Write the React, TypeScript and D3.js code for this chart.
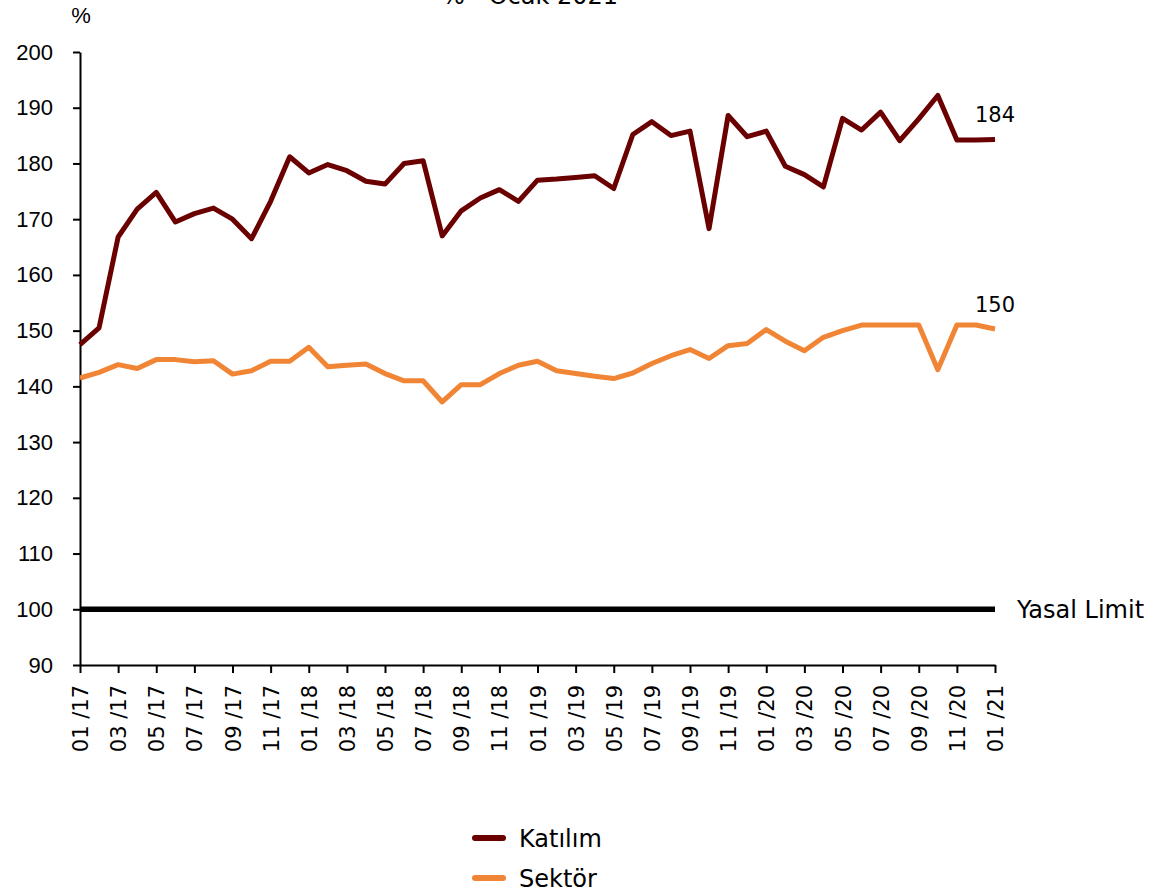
import React, { useEffect, useRef } from "react";
import * as d3 from "d3";

// monthly categories, 01/17 .. 01/21
const months = [
  "01 /17", "02 /17", "03 /17", "04 /17", "05 /17", "06 /17", "07 /17", "08 /17", "09 /17", "10 /17", "11 /17", "12 /17",
  "01 /18", "02 /18", "03 /18", "04 /18", "05 /18", "06 /18", "07 /18", "08 /18", "09 /18", "10 /18", "11 /18", "12 /18",
  "01 /19", "02 /19", "03 /19", "04 /19", "05 /19", "06 /19", "07 /19", "08 /19", "09 /19", "10 /19", "11 /19", "12 /19",
  "01 /20", "02 /20", "03 /20", "04 /20", "05 /20", "06 /20", "07 /20", "08 /20", "09 /20", "10 /20", "11 /20", "12 /20",
  "01 /21",
];

const katilim = [
  147.5, 150.5, 166.8, 171.8, 174.8, 169.5, 171.0, 172.0, 170.0, 166.5, 173.2, 181.2,
  178.3, 179.8, 178.7, 176.8, 176.3, 180.0, 180.5, 167.0, 171.5, 173.8, 175.3, 173.2,
  177.0, 177.2, 177.5, 177.8, 175.5, 185.2, 187.5, 185.0, 185.8, 168.3, 188.6, 184.8,
  185.8, 179.5, 178.0, 175.8, 188.1, 186.0, 189.2, 184.1, 188.0, 192.2, 184.2, 184.2,
  184.3,
];

const sektor = [
  141.5, 142.5, 143.9, 143.2, 144.8, 144.8, 144.4, 144.6, 142.2, 142.8, 144.5, 144.5,
  147.0, 143.5, 143.8, 144.0, 142.3, 141.0, 141.0, 137.2, 140.3, 140.3, 142.3, 143.8,
  144.5, 142.8, 142.3, 141.8, 141.4, 142.4, 144.1, 145.5, 146.6, 145.0, 147.3, 147.7,
  150.2, 148.1, 146.4, 148.8, 150.0, 151.0, 151.0, 151.0, 151.0, 143.0, 151.0, 151.0,
  150.3,
];

const yTicks = [90, 100, 110, 120, 130, 140, 150, 160, 170, 180, 190, 200];
const legalLimit = 100;

const seriesList = [
  { name: "Katılım", values: katilim, color: "#6B0000", last: "184" },
  { name: "Sektör", values: sektor, color: "#F08536", last: "150" },
];

export default function App() {
  const ref = useRef<SVGSVGElement>(null);

  useEffect(() => {
    const svg = d3.select(ref.current);
    svg.selectAll("*").remove();

    const left = 80, right = 995, top = 52, bottom = 665;
    const labelFont = "'DejaVu Sans', sans-serif";
    const numFont = "'Liberation Sans', Arial, sans-serif";

    const x = d3.scalePoint<string>().domain(months).range([left, right]);
    const y = d3.scaleLinear().domain([90, 200]).range([bottom, top]);

    // title, cut at the top edge as in the original
    svg.append("text")
      .attr("x", 530).attr("y", 4)
      .attr("text-anchor", "middle")
      .style("font-family", labelFont).style("font-size", "24px")
      .text("% - Ocak 2021");

    // unit
    svg.append("text")
      .attr("x", 81).attr("y", 23)
      .attr("text-anchor", "middle")
      .style("font-family", numFont).style("font-size", "22px")
      .text("%");

    // y axis
    const yAxis = svg.append("g")
      .attr("transform", `translate(${left},0)`)
      .call(d3.axisLeft(y).tickValues(yTicks).tickSize(7).tickSizeOuter(0).tickPadding(20));
    yAxis.select(".domain").attr("stroke", "#000").attr("stroke-width", 2);
    yAxis.selectAll(".tick line").attr("stroke", "#000").attr("stroke-width", 2);
    yAxis.selectAll("text")
      .style("font-family", numFont).style("font-size", "22px").attr("fill", "#000");

    // x axis
    const xAxis = svg.append("g")
      .attr("transform", `translate(0,${bottom})`)
      .call(d3.axisBottom(x).tickValues(months.filter((_, i) => i % 2 === 0)).tickSize(8).tickSizeOuter(0));
    xAxis.select(".domain").attr("stroke", "#000").attr("stroke-width", 2);
    xAxis.selectAll(".tick line").attr("stroke", "#000").attr("stroke-width", 2);
    xAxis.selectAll("text")
      .attr("transform", "rotate(-90)")
      .attr("x", -20).attr("y", 0).attr("dy", "0.36em")
      .style("text-anchor", "end")
      .style("font-family", labelFont).style("font-size", "21px").attr("fill", "#000");

    // legal limit line
    svg.append("line")
      .attr("x1", x(months[0])!).attr("x2", x(months[months.length - 1])!)
      .attr("y1", y(legalLimit)).attr("y2", y(legalLimit))
      .attr("stroke", "#000").attr("stroke-width", 5.5);
    svg.append("text")
      .attr("x", 1017).attr("y", y(legalLimit) + 9)
      .style("font-family", labelFont).style("font-size", "24px")
      .text("Yasal Limit");

    const line = d3.line<number>()
      .x((_, i) => x(months[i])!)
      .y(d => y(d));

    seriesList.forEach(s => {
      svg.append("path")
        .datum(s.values)
        .attr("d", line)
        .attr("fill", "none")
        .attr("stroke", s.color)
        .attr("stroke-width", 5)
        .attr("stroke-linejoin", "round");

      const lastVal = s.values[s.values.length - 1];
      svg.append("text")
        .attr("x", 995).attr("y", y(lastVal) - 17)
        .attr("text-anchor", "middle")
        .style("font-family", labelFont).style("font-size", "21px")
        .text(s.last);
    });

    // legend
    const legend = svg.append("g");
    seriesList.forEach((s, i) => {
      const ly = 838 + i * 40;
      legend.append("line")
        .attr("x1", 475).attr("x2", 503)
        .attr("y1", ly).attr("y2", ly)
        .attr("stroke", s.color).attr("stroke-width", 6)
        .attr("stroke-linecap", "round");
      legend.append("text")
        .attr("x", 519).attr("y", ly + 9)
        .style("font-family", labelFont).style("font-size", "24px")
        .text(s.name);
    });
  }, []);

  return (
    <div>
      <style>{`body{margin:0}`}</style>
      <svg ref={ref} width={1154} height={892} style={{ display: "block", background: "#fff" }} />
    </div>
  );
}
